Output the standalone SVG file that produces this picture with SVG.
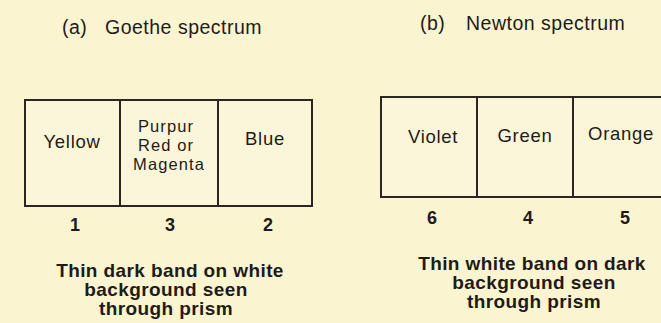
<svg xmlns="http://www.w3.org/2000/svg" width="661" height="323" viewBox="0 0 661 323">
  <style>
    .bg { fill: #faf4d0; }
    .band { fill: #fbf6d9; stroke: #2b2622; stroke-width: 2; }
    .div { stroke: #2b2622; stroke-width: 2; fill: none; }
    text { font-family: "Liberation Sans", Arial, sans-serif; fill: #1f1b18; text-anchor: middle; }
    .title { font-size: 19.5px; letter-spacing: 0.5px; text-anchor: start; }
    .lbl { font-size: 18.5px; letter-spacing: 0.7px; }
    .lbl3 { font-size: 16.5px; letter-spacing: 1.1px; }
    .num { font-size: 18px; font-weight: bold; }
    .cap { font-size: 19px; font-weight: bold; letter-spacing: 0.4px; }
  </style>
  <rect class="bg" x="0" y="0" width="661" height="323"/>

  <!-- (a) Goethe spectrum -->
  <g id="goethe">
    <text class="title" x="62" y="34">(a)</text>
    <text class="title" x="105" y="34">Goethe spectrum</text>
    <rect class="band" x="25" y="100" width="287" height="106"/>
    <g id="goethe-dividers">
      <line class="div" x1="120" y1="100" x2="120" y2="206"/>
      <line class="div" x1="218" y1="100" x2="218" y2="206"/>
    </g>
    <text class="lbl" x="72" y="148">Yellow</text>
    <text class="lbl3" x="166" y="132">Purpur</text>
    <text class="lbl3" x="166" y="151">Red or</text>
    <text class="lbl3" x="169" y="170">Magenta</text>
    <text class="lbl" x="265" y="145">Blue</text>
    <text class="num" x="75" y="231">1</text>
    <text class="num" x="170" y="231">3</text>
    <text class="num" x="268" y="231">2</text>
    <text class="cap" x="170" y="277">Thin dark band on white</text>
    <text class="cap" x="166" y="296">background seen</text>
    <text class="cap" x="166" y="315">through prism</text>
  </g>

  <!-- (b) Newton spectrum -->
  <g id="newton">
    <text class="title" x="420" y="30">(b)</text>
    <text class="title" x="466" y="30">Newton spectrum</text>
    <rect class="band" x="381" y="97" width="320" height="100"/>
    <g id="newton-dividers">
      <line class="div" x1="477" y1="97" x2="477" y2="197"/>
      <line class="div" x1="573" y1="97" x2="573" y2="197"/>
    </g>
    <text class="lbl" x="433" y="143">Violet</text>
    <text class="lbl" x="525" y="142">Green</text>
    <text class="lbl" x="621" y="140">Orange</text>
    <text class="num" x="432" y="224">6</text>
    <text class="num" x="528" y="224">4</text>
    <text class="num" x="625" y="224">5</text>
    <text class="cap" x="532" y="270">Thin white band on dark</text>
    <text class="cap" x="534" y="289">background seen</text>
    <text class="cap" x="534" y="308">through prism</text>
  </g>
</svg>
